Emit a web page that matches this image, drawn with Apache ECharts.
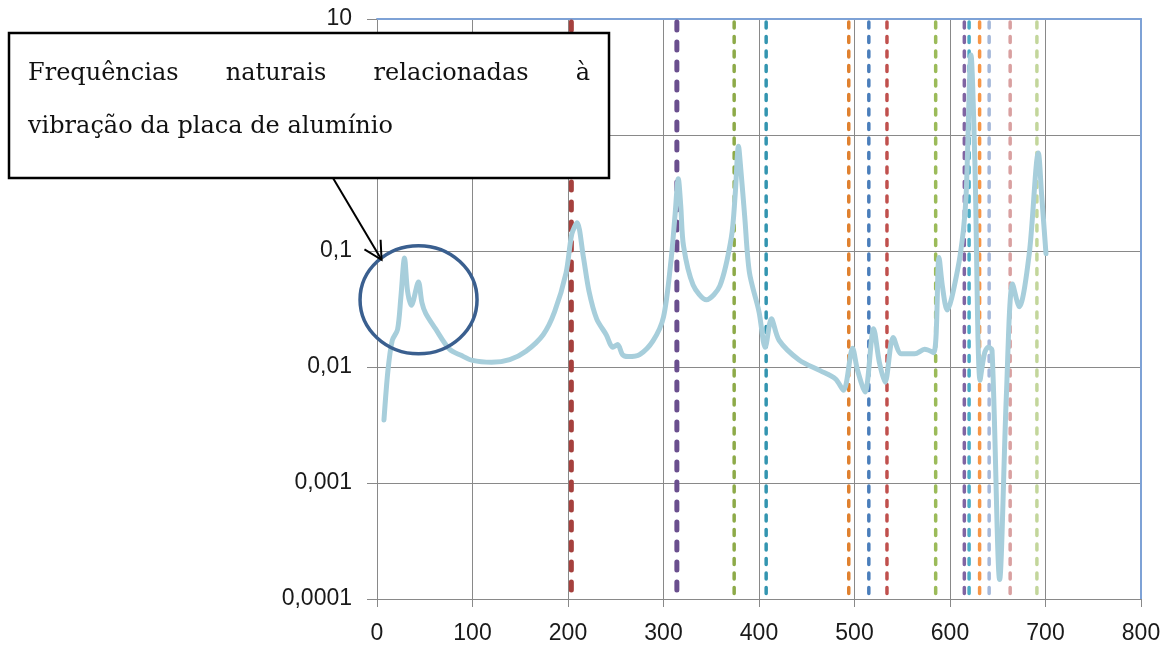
<!DOCTYPE html>
<html>
<head>
<meta charset="utf-8">
<script src="https://cdn.jsdelivr.net/npm/echarts@6/dist/echarts.min.js"></script>
<style>
  html, body { margin: 0; padding: 0; background: #fff; }
  #main { width: 1172px; height: 649px; }
</style>
</head>
<body>
<div id="main"></div>
<script>
// Frequency response of the plate (Hz vs. amplitude, log scale)
const freq = [7.3, 11.5, 16, 21.5, 25, 28.8, 32, 36, 43.4, 47, 51, 61, 76, 88, 100,
  120, 139, 156, 174, 186, 198, 204, 209.5, 216, 222, 230, 240, 247, 252, 257, 263,
  275, 289, 300, 308, 312, 315.5, 318, 321, 331, 345, 359, 371, 375, 378.5, 381, 385,
  390, 400, 406.5, 413, 421, 442, 464, 480, 488.5, 498, 503, 511, 520, 526, 532,
  540.5, 549, 563, 573.5, 583, 588.5, 592, 597, 608, 614, 617, 622, 626, 631.5, 636,
  640, 644, 652, 659, 665.5, 672.5, 683, 692.5, 696, 700.5];
const amp = [0.0035, 0.0094, 0.017, 0.021, 0.04, 0.087, 0.045, 0.034, 0.054, 0.036,
  0.029, 0.0215, 0.0142, 0.0126, 0.0114, 0.011, 0.0116, 0.0137, 0.019, 0.03, 0.065,
  0.14, 0.175, 0.09, 0.045, 0.026, 0.019, 0.0148, 0.0156, 0.0128, 0.0123, 0.0128,
  0.0168, 0.027, 0.085, 0.2, 0.42, 0.25, 0.11, 0.051, 0.038, 0.05, 0.13, 0.3, 0.8,
  0.5, 0.2, 0.065, 0.03, 0.0148, 0.026, 0.017, 0.0115, 0.0093, 0.0079, 0.0063,
  0.0145, 0.0095, 0.0061, 0.0214, 0.011, 0.0074, 0.018, 0.013, 0.013, 0.0142,
  0.0133, 0.088, 0.05, 0.031, 0.069, 0.15, 0.32, 4.9, 0.6, 0.0077, 0.013, 0.0148,
  0.014, 0.000147, 0.0056, 0.052, 0.033, 0.095, 0.7, 0.3, 0.095];

// Computed natural frequencies (vertical reference lines)
const naturalFreq = [203.5, 314, 374, 407.5, 494, 515, 534, 585, 615, 620, 631, 641, 663, 691];

// Tick labels
const xTickLabels = ['0', '100', '200', '300', '400', '500', '600', '700', '800'];
const yTickLabels = ['0,0001', '0,001', '0,01', '0,1', '1', '10'];

// Styling of the reference lines
const refColors = ['#A5403D', '#6A4F8E', '#8DAA48', '#3395B0', '#E0812F', '#4A7EBB',
  '#C0504D', '#9BBB59', '#8064A2', '#4BACC6', '#F79646', '#A5B8DA', '#D9A0A0', '#C3D69B'];
const refWidths = [5, 5, 3.5, 3.5, 3.5, 3.5, 3.5, 3.5, 3.5, 3.5, 3.5, 3.5, 3.5, 3.5];

const Y_MIN = 0.0001, Y_MAX = 10;
const gridColor = '#898989';
const frameColor = '#7EA2D6';

const chart = echarts.init(document.getElementById('main'), null, { renderer: 'canvas' });

// Each reference line runs from the top of the plot down to the bottom
const refSeries = naturalFreq.map((f, i) => ({
  type: 'line',
  data: [[f, Y_MAX], [f, Y_MIN]],
  showSymbol: false,
  silent: true,
  z: 3,
  lineStyle: {
    color: refColors[i],
    width: refWidths[i],
    type: refWidths[i] > 4 ? [8, 12] : [6, 8.5],
    dashOffset: -3,
    cap: 'round'
  }
}));

const curveSeries = {
  type: 'line',
  data: freq.map((f, i) => [f, amp[i]]),
  showSymbol: false,
  smooth: 0.3,
  silent: true,
  z: 5,
  lineStyle: { color: '#A7CEDB', width: 5, cap: 'round', join: 'round' }
};

const axisFont = { fontFamily: 'Liberation Sans', color: '#1a1a1a' };

chart.setOption({
  animation: false,
  backgroundColor: '#ffffff',
  grid: { left: 377, right: 31, top: 19, bottom: 50, containLabel: false },
  xAxis: [{
    type: 'value', min: 0, max: 800, interval: 100,
    axisLine: { show: true, onZero: false, lineStyle: { color: gridColor, width: 1 } },
    axisTick: { show: true, length: 8, lineStyle: { color: gridColor } },
    axisLabel: Object.assign({ fontSize: 23, margin: 23,
      formatter: v => xTickLabels[Math.round(v / 100)] }, axisFont),
    splitLine: { show: true, showMinLine: false, showMaxLine: false,
      lineStyle: { color: gridColor, width: 1 } }
  }, {
    type: 'value', position: 'top', min: 0, max: 800,
    axisLine: { show: true, onZero: false, lineStyle: { color: frameColor, width: 2 } },
    axisTick: { show: false }, axisLabel: { show: false }, splitLine: { show: false }
  }],
  yAxis: [{
    type: 'log', logBase: 10, min: Y_MIN, max: Y_MAX,
    axisLine: { show: true, onZero: false, lineStyle: { color: gridColor, width: 1 } },
    axisTick: { show: true, length: 10, lineStyle: { color: gridColor } },
    axisLabel: Object.assign({ fontSize: 23, margin: 25,
      formatter: v => yTickLabels[Math.round(Math.log10(v)) + 4] }, axisFont),
    splitLine: { show: true, showMinLine: false, showMaxLine: false,
      lineStyle: { color: gridColor, width: 1 } }
  }, {
    type: 'log', logBase: 10, min: Y_MIN, max: Y_MAX, position: 'right',
    axisLine: { show: true, onZero: false, lineStyle: { color: frameColor, width: 2 } },
    axisTick: { show: false }, axisLabel: { show: false }, splitLine: { show: false }
  }],
  series: refSeries.concat([curveSeries])
});

// Annotation: ellipse around the low-frequency peaks, arrow and text box
const boxFont = '24px "DejaVu Serif"';
const center = chart.convertToPixel({ xAxisIndex: 0, yAxisIndex: 0 }, [43.5, 0.038]);
const rx = 58.5, ry = 54;
const tip = [center[0] - 37, center[1] - 40];
const tail = [333, 178];
const ang = Math.atan2(tip[1] - tail[1], tip[0] - tail[0]) + Math.PI;
const wing = 20, spread = 28 * Math.PI / 180;
const w1 = [tip[0] + wing * Math.cos(ang + spread), tip[1] + wing * Math.sin(ang + spread)];
const w2 = [tip[0] + wing * Math.cos(ang - spread), tip[1] + wing * Math.sin(ang - spread)];

// Justified first line of the caption
const words1 = ['Frequências', 'naturais', 'relacionadas', 'à'];
const line2 = 'vibração da placa de alumínio';
const textLeft = 28, textRight = 590;
const ctx = document.createElement('canvas').getContext('2d');
ctx.font = boxFont;
const widths = words1.map(w => ctx.measureText(w).width);
const gap = (textRight - textLeft - widths.reduce((a, b) => a + b, 0)) / (words1.length - 1);
let cursor = textLeft;
const wordEls = words1.map((w, i) => {
  const el = { type: 'text', x: cursor, y: 74, z: 102,
    style: { text: w, font: boxFont, fill: '#111', textAlign: 'left', textVerticalAlign: 'middle' } };
  cursor += widths[i] + gap;
  return el;
});

chart.setOption({
  graphic: [
    { type: 'ellipse', z: 90, shape: { cx: center[0], cy: center[1], rx: rx, ry: ry },
      style: { fill: 'none', stroke: '#3A5F8F', lineWidth: 3.5 } },
    { type: 'line', z: 91, shape: { x1: tail[0], y1: tail[1], x2: tip[0], y2: tip[1] },
      style: { stroke: '#000', lineWidth: 2 } },
    { type: 'polyline', z: 91, shape: { points: [w1, tip, w2] },
      style: { stroke: '#000', lineWidth: 2, fill: 'none' } },
    { type: 'rect', z: 100, shape: { x: 9, y: 33, width: 600, height: 145 },
      style: { fill: '#fff', stroke: '#000', lineWidth: 2.5 } },
    ...wordEls,
    { type: 'text', x: textLeft, y: 127, z: 102,
      style: { text: line2, font: boxFont, fill: '#111', textAlign: 'left', textVerticalAlign: 'middle' } }
  ]
});
</script>
</body>
</html>
